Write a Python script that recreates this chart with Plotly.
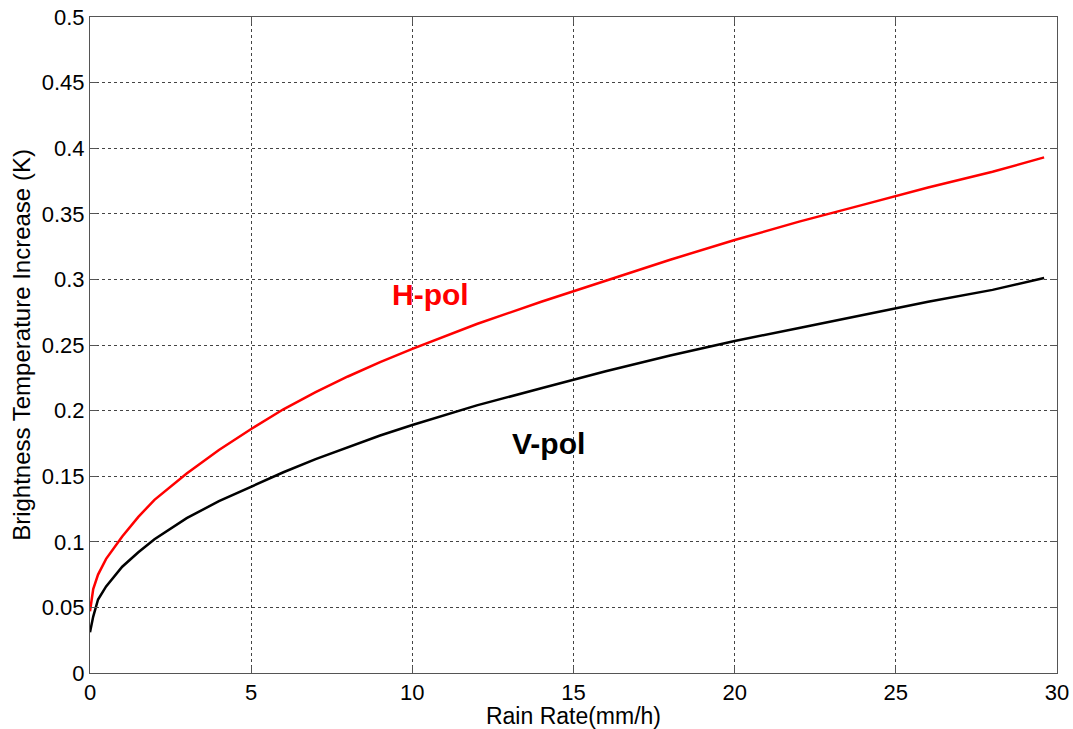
import plotly.graph_objects as go

rain_rate = [0, 0.05, 0.1, 0.25, 0.5, 1, 1.5, 2, 3, 4, 5, 6, 7, 8, 9, 10, 12, 14, 16, 18, 20, 22, 24, 26, 28, 29.6]
h_pol = [0.047, 0.058, 0.064, 0.075, 0.087, 0.104, 0.119, 0.132, 0.152, 0.170, 0.186, 0.201, 0.214, 0.226, 0.237,
         0.247, 0.266, 0.283, 0.299, 0.315, 0.330, 0.344, 0.357, 0.370, 0.382, 0.393]
v_pol = [0.031, 0.038, 0.043, 0.056, 0.066, 0.081, 0.092, 0.102, 0.118, 0.131, 0.142, 0.153, 0.163, 0.172, 0.181,
         0.189, 0.204, 0.217, 0.230, 0.242, 0.253, 0.263, 0.273, 0.283, 0.292, 0.301]

x_ticks = [0, 5, 10, 15, 20, 25, 30]
y_ticks = [0, 0.05, 0.1, 0.15, 0.2, 0.25, 0.3, 0.35, 0.4, 0.45, 0.5]
y_tick_text = ["0", "0.05", "0.1", "0.15", "0.2", "0.25", "0.3", "0.35", "0.4", "0.45", "0.5"]

labels = ["H-pol", "V-pol"]
label_x = [10.56, 14.23]
label_y = [0.2885, 0.175]
label_colors = ["#ff0000", "#000000"]

FONT = "Liberation Sans, Arial"

fig = go.Figure()
fig.add_trace(go.Scatter(x=rain_rate, y=h_pol, mode="lines",
                         line=dict(color="#ff0000", width=2.5),
                         showlegend=False))
fig.add_trace(go.Scatter(x=rain_rate, y=v_pol, mode="lines",
                         line=dict(color="#000000", width=2.5),
                         showlegend=False))

for t, x, y, c in zip(labels, label_x, label_y, label_colors):
    fig.add_annotation(x=x, y=y, text="<b>%s</b>" % t, showarrow=False,
                       font=dict(family=FONT, size=30, color=c))

axis_common = dict(showline=True, linecolor="#555555", linewidth=1, mirror="ticks", ticks="inside",
                   ticklen=7, tickcolor="#555555", showgrid=True, gridcolor="#444444", griddash="dot",
                   gridwidth=1, zeroline=False, automargin=False,
                   tickfont=dict(family=FONT, size=22, color="#000000"))

fig.update_xaxes(range=[0, 30], tickvals=x_ticks, **axis_common,
                 title=dict(text="Rain Rate(mm/h)", font=dict(family=FONT, size=23, color="#000000"),
                            standoff=2))
fig.update_yaxes(range=[0, 0.5], tickvals=y_ticks, ticktext=y_tick_text, **axis_common,
                 title=dict(text="Brightness Temperature Increase (K)",
                            font=dict(family=FONT, size=24, color="#000000"), standoff=4))

fig.update_layout(width=1073, height=729, margin=dict(l=90, r=16, t=17, b=56),
                  plot_bgcolor="white", paper_bgcolor="white")

fig.write_html("out.html")
